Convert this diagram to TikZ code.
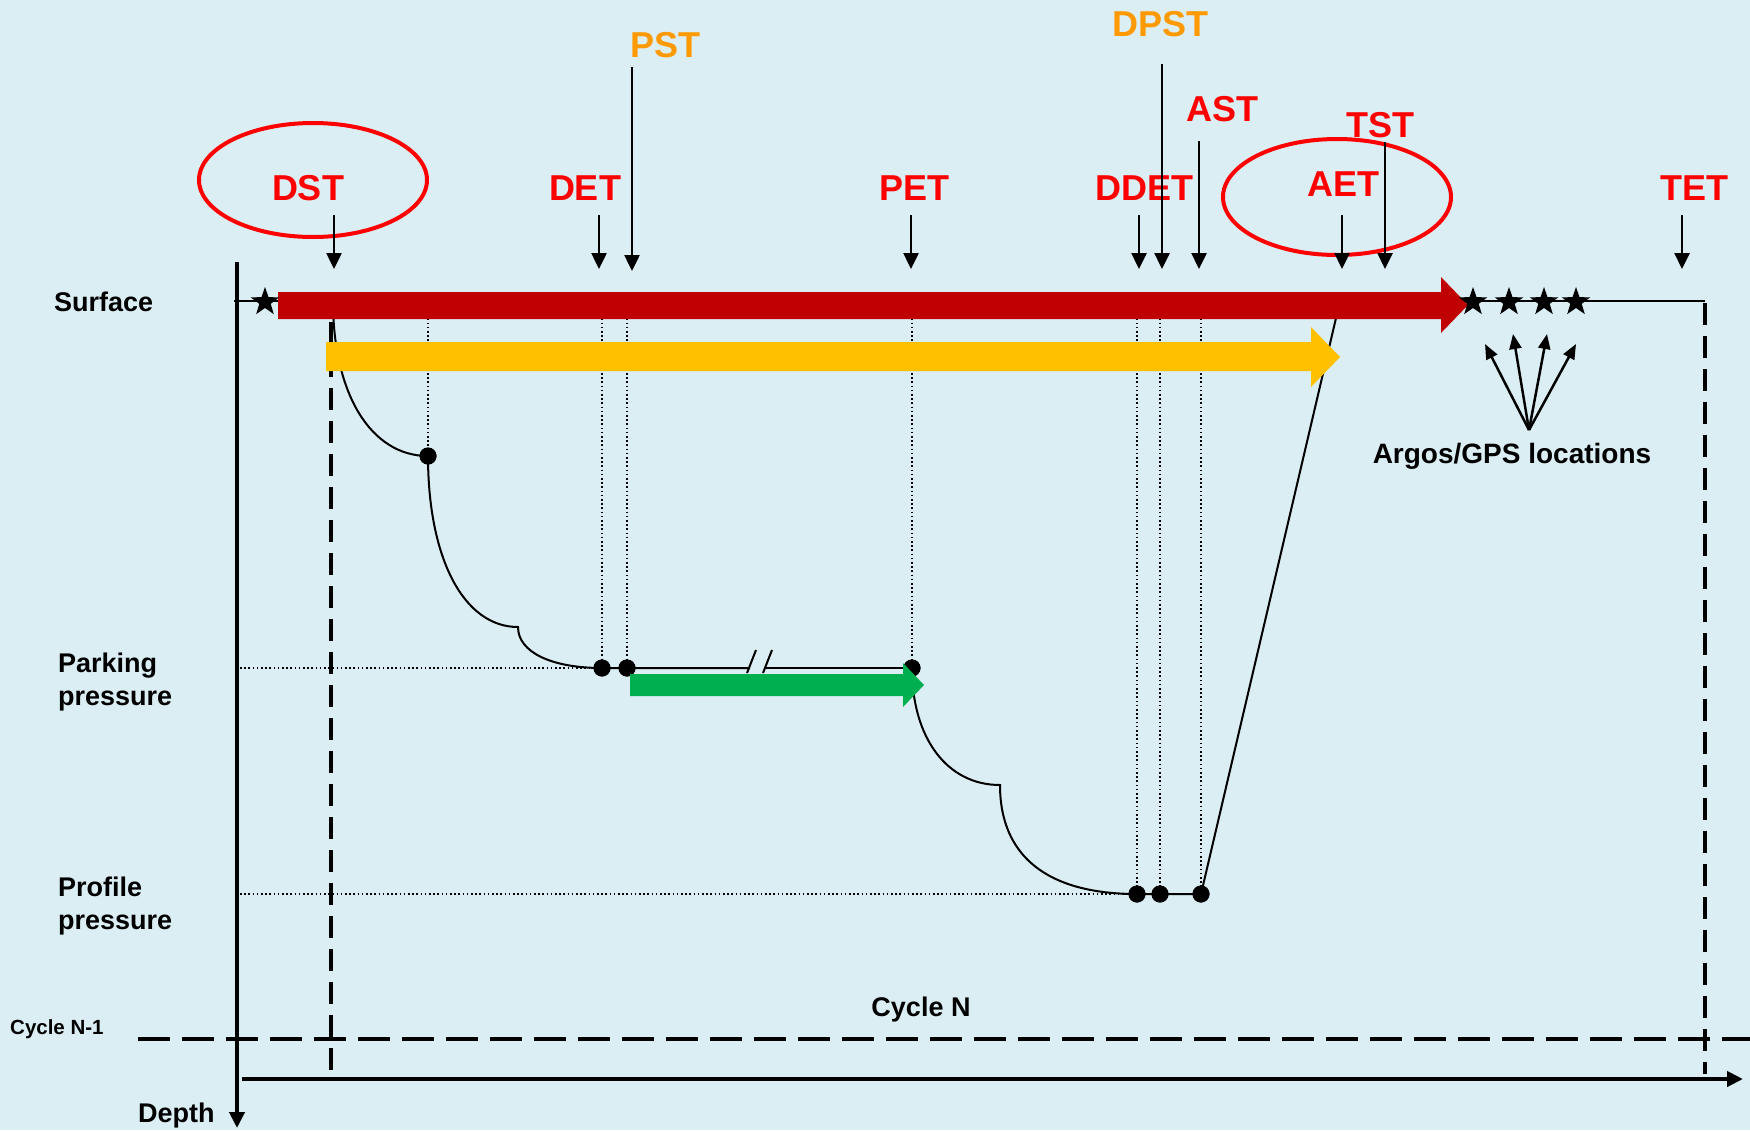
\documentclass[tikz,border=0pt]{standalone}
\usepackage{fontspec}
\setmainfont{Liberation Sans}
\usetikzlibrary{arrows.meta,shapes.geometric}
\definecolor{bgblue}{RGB}{219,238,244}
\definecolor{barred}{RGB}{192,0,0}
\definecolor{baryellow}{RGB}{255,192,0}
\definecolor{bargreen}{RGB}{0,176,80}
\definecolor{labred}{RGB}{255,0,0}
\definecolor{laborange}{RGB}{255,153,0}
\begin{document}
\begin{tikzpicture}[x=1pt,y=-1pt,
  lbl/.style={font=\fontsize{36}{40}\selectfont\bfseries, text=labred, inner sep=0pt, anchor=base},
  olbl/.style={lbl, text=laborange},
  side/.style={font=\fontsize{27}{32}\selectfont\bfseries, inner sep=0pt, anchor=base west},
  labarrow/.style={line width=2.5pt, -{Triangle[width=15pt,length=16pt]}},
  axisarrow/.style={line width=4pt, -{Triangle[width=15pt,length=16pt]}},
  gpsarrow/.style={line width=2.5pt, -{Triangle[width=12pt,length=15pt]}},
  vdash/.style={line width=3.5pt, dash pattern=on 22pt off 11pt},
  dotline/.style={line width=1.6pt, dash pattern=on 1.6pt off 2.6pt},
  profile/.style={line width=2pt},
  dot/.style={circle, fill=black, inner sep=0pt, minimum size=17pt},
  starshape/.style={star, star points=5, star point ratio=2.5, fill=black, inner sep=0pt, minimum size=30pt},
  ring/.style={draw=labred, line width=4pt}]
\fill[bgblue] (0,0) rectangle (1750,1130);
\useasboundingbox (0,0) rectangle (1750,1130);

% surface line and right dashed limit
\draw[profile] (234,301) -- (1705,301);
\draw[vdash] (1705,303) -- (1705,1074);
\draw[vdash] (331,322) -- (331,1074);

% cycle separator
\draw[line width=4pt, dash pattern=on 32pt off 12pt] (138,1039) -- (1750,1039);

% dots
\node[dot] (d1) at (428,456) {};
\node[dot] (det) at (602,668) {};
\node[dot] (pst) at (627,668) {};
\node[dot] (pet) at (912,668) {};
\node[dot] (ddet) at (1137,894) {};
\node[dot] (dpst) at (1160,894) {};
\node[dot] (ast) at (1201,894) {};
\coordinate (dst) at (333,301);
\coordinate (aet) at (1340,301);

% dotted guides
\draw[dotline] (240,668) -- (det.center);
\draw[dotline] (240,894) -- (ddet.center);
\foreach \n in {d1,det,pst,pet,ddet,dpst,ast}
  \draw[dotline] (\n.center |- 0,310) -- (\n.center);

% profile path
\draw[profile] (dst) .. controls (333,394) and (371,456) .. (d1.center)
  .. controls (428,559) and (464,627) .. (518,627)
  .. controls (518,652) and (551,668) .. (det.center) -- (pst.center) -- (750,668);
\draw[profile] (766,668) -- (pet.center);
\draw[profile] (747,673) -- (756,650);
\draw[profile] (763,673) -- (772,650);
\draw[profile] (pet.center) .. controls (912,738) and (947,785) .. (1000,785)
  .. controls (1000,856) and (1047,894) .. (ddet.center) -- (dpst.center) -- (ast.center) -- (aet);

% redraw dots on top of lines
\foreach \n in {d1,det,pst,pet,ddet,dpst,ast}
  \fill (\n) circle (8.5pt);

% colored arrows
\fill[barred] (278,292) -- (1441,292) -- (1441,277) -- (1468,305) -- (1441,333) -- (1441,319) -- (278,319) -- cycle;
\fill[baryellow] (326,342) -- (1311,342) -- (1311,327) -- (1340,357) -- (1311,387) -- (1311,371) -- (326,371) -- cycle;
\fill[bargreen] (630,674) -- (903,674) -- (903,663) -- (924,685) -- (903,707) -- (903,696) -- (630,696) -- cycle;

% stars
\node[starshape] (s0) at (265,302) {};
\node[starshape] (s1) at (1473,302) {};
\node[starshape] (s2) at (1509,302) {};
\node[starshape] (s3) at (1544,302) {};
\node[starshape] (s4) at (1576,302) {};

% GPS arrows
\coordinate (gps) at (1529,430);
\draw[gpsarrow] (gps) -- (1485,344);
\draw[gpsarrow] (gps) -- (1513,334);
\draw[gpsarrow] (gps) -- (1547,334);
\draw[gpsarrow] (gps) -- (1576,344);
\node[font=\fontsize{28}{32}\selectfont\bfseries, inner sep=0pt, anchor=base] (gpslbl) at (1512,463) {Argos/GPS locations};

% axes
\draw[axisarrow] (237,262) -- (237,1128);
\draw[axisarrow] (242,1079) -- (1743,1079);

% timing labels
\node[lbl] (tDST) at (308,200) {DST};
\node[lbl] (tDET) at (585,200) {DET};
\node[olbl] (tPST) at (665,57) {PST};
\node[lbl] (tPET) at (914,200) {PET};
\node[lbl] (tDDET) at (1144,200) {DDET};
\node[olbl] (tDPST) at (1160,36) {DPST};
\node[lbl] (tAST) at (1222,121) {AST};
\node[lbl] (tAET) at (1343,196) {AET};
\node[lbl] (tTST) at (1380,137) {TST};
\node[lbl] (tTET) at (1694,200) {TET};

% ellipses
\draw[ring] (313,180) ellipse [x radius=114, y radius=57];
\draw[ring] (1337,197) ellipse [x radius=114, y radius=58];

% timing arrows
\draw[labarrow] (334,215) -- (334,269);
\draw[labarrow] (599,215) -- (599,269);
\draw[labarrow] (632,67) -- (632,271);
\draw[labarrow] (911,215) -- (911,269);
\draw[labarrow] (1139,215) -- (1139,269);
\draw[labarrow] (1162,64) -- (1162,269);
\draw[labarrow] (1199,141) -- (1199,269);
\draw[labarrow] (1342,215) -- (1342,269);
\draw[labarrow] (1385,142) -- (1385,269);
\draw[labarrow] (1682,215) -- (1682,269);

% side labels
\node[side] (surf) at (54,311) {Surface};
\node[side] (park1) at (58,672) {Parking};
\node[side] (park2) at (58,705) {pressure};
\node[side] (prof1) at (58,896) {Profile};
\node[side] (prof2) at (58,929) {pressure};
\node[side, font=\fontsize{20.5}{24}\selectfont\bfseries] (cyc1) at (10,1034) {Cycle N-1};
\node[side, anchor=base] (cyc) at (921,1016) {Cycle N};
\node[side] (depth) at (138,1122) {Depth};
\end{tikzpicture}
\end{document}
